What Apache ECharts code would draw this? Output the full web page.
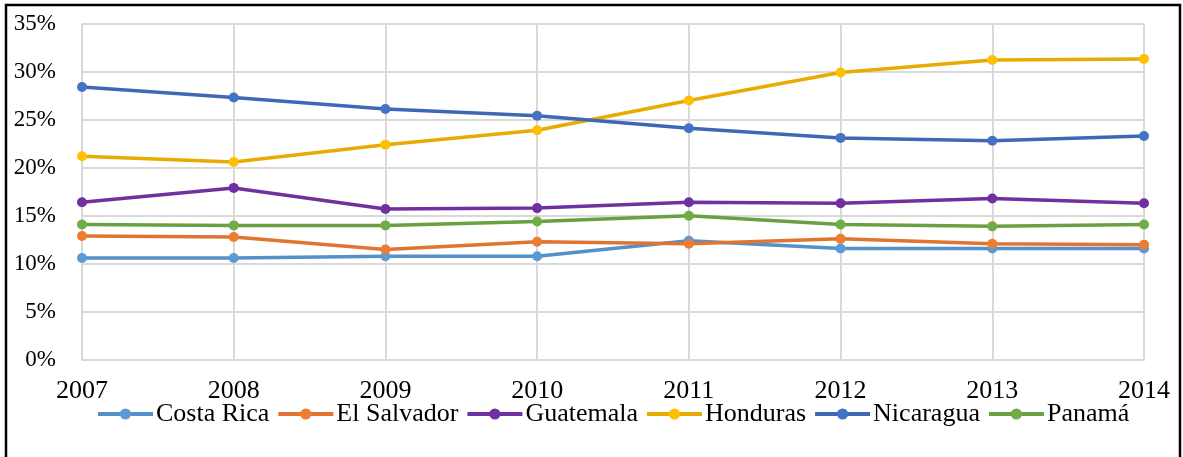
<!DOCTYPE html>
<html>
<head>
<meta charset="utf-8">
<script src="https://cdn.jsdelivr.net/npm/echarts@6/dist/echarts.min.js"></script>
<style>
	html, body { margin: 0; padding: 0; background: #fff; }
	#draw { width: 1183px; height: 457px; }
</style>
</head>
<body>
<div id="draw"></div>
<script>
	// años
	var years = ['2007', '2008', '2009', '2010', '2011', '2012', '2013', '2014'];
	var paises = ['Costa Rica', 'El Salvador', 'Guatemala', 'Honduras', 'Nicaragua', 'Panamá'];

	// valores en %
	var costaRica = [10.6, 10.6, 10.8, 10.8, 12.4, 11.6, 11.6, 11.6];
	var elSalvador = [12.9, 12.8, 11.5, 12.3, 12.1, 12.6, 12.1, 12.0];
	var guatemala = [16.4, 17.9, 15.7, 15.8, 16.4, 16.3, 16.8, 16.3];
	var honduras = [21.2, 20.6, 22.4, 23.9, 27.0, 29.9, 31.2, 31.3];
	var nicaragua = [28.4, 27.3, 26.1, 25.4, 24.1, 23.1, 22.8, 23.3];
	var panama = [14.1, 14.0, 14.0, 14.4, 15.0, 14.1, 13.9, 14.1];

	var fuente = '"Liberation Serif", "Times New Roman", serif';

	function serie(nombre, datos, colorLinea, colorPunto) {
		return {
			name: nombre,
			type: 'line',
			data: datos,
			symbol: 'circle',
			symbolSize: 10, //tamaño del punto
			lineStyle: { color: colorLinea, width: 3.5 },
			itemStyle: { color: colorPunto }
		};
	}

	var myChart = echarts.init(document.getElementById('draw'));
	myChart.setOption({
		animation: false,
		textStyle: { fontFamily: fuente },
		grid: {
			top: 23.5,
			bottom: 97,
			left: 82,
			right: 39
		},
		graphic: [{
			type: 'rect',
			shape: { x: 6, y: 5, width: 1174, height: 470 },
			style: { fill: 'none', stroke: '#000', lineWidth: 2.5 },
			silent: true
		}],
		legend: {
			data: paises,
			left: 91,
			top: 396,
			itemGap: 7,
			itemWidth: 55,
			itemHeight: 14,
			lineStyle: { width: 4 },
			textStyle: {
				color: '#000',
				fontSize: 26,
				fontFamily: fuente,
				padding: [0, 0, 0, -2]
			}
		},
		xAxis: {
			type: 'category',
			data: years,
			boundaryGap: false,
			axisLine: { lineStyle: { color: '#d9d9d9', width: 2 } },
			axisTick: { show: false },
			axisLabel: {
				color: '#000',
				fontSize: 26,
				fontFamily: fuente,
				margin: 18
			},
			splitLine: {
				show: true,
				lineStyle: { color: '#d9d9d9', width: 2 }
			}
		},
		yAxis: {
			type: 'value',
			min: 0,
			max: 35,
			interval: 5,
			axisLine: { show: false },
			axisTick: { show: false },
			axisLabel: {
				color: '#000',
				fontSize: 23,
				fontFamily: fuente,
				margin: 26,
				formatter: '{value}%'
			},
			splitLine: {
				lineStyle: { color: '#d9d9d9', width: 2 }
			}
		},
		series: [
			serie('Costa Rica', costaRica, '#5590c8', '#5b9bd5'),
			serie('El Salvador', elSalvador, '#e07430', '#ed7d31'),
			serie('Guatemala', guatemala, '#7030a0', '#7030a0'),
			serie('Honduras', honduras, '#e8ab00', '#ffc000'),
			serie('Nicaragua', nicaragua, '#3f67b5', '#4472c4'),
			serie('Panamá', panama, '#69a042', '#70ad47')
		]
	});
</script>
</body>
</html>
